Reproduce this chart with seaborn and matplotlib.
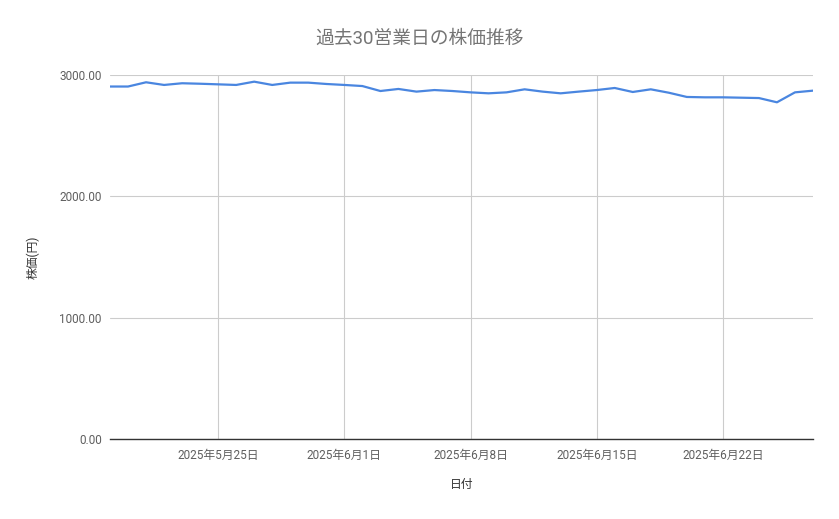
import matplotlib
matplotlib.use("Agg")
import matplotlib.pyplot as plt
import matplotlib.dates as mdates
import seaborn as sns
import pandas as pd

dates = pd.date_range("2025-05-19", "2025-06-27", freq="D")
prices = [2905, 2905, 2940, 2918, 2932, 2928, 2923, 2918, 2945, 2918,
          2937, 2937, 2926, 2918, 2909, 2868, 2885, 2863, 2876, 2868,
          2857, 2849, 2857, 2882, 2863, 2849, 2863, 2876, 2893, 2860,
          2882, 2854, 2819, 2816, 2816, 2813, 2810, 2775, 2857, 2871]
tick_dates = pd.to_datetime(["2025-05-25", "2025-06-01", "2025-06-08", "2025-06-15", "2025-06-22"])
y_ticks = [0, 1000, 2000, 3000]

df = pd.DataFrame({"日付": dates, "株価": prices})

sns.set_theme(style="white")
plt.rcParams["font.family"] = ["Roboto", "Noto Sans CJK JP", "DejaVu Sans"]

fig = plt.figure(figsize=(8.39, 5.19), dpi=100)
ax = fig.add_axes([110/839, 1-439/519, (813-110)/839, (439-75)/519])

sns.lineplot(data=df, x="日付", y="株価", ax=ax, color="#4a86e0", linewidth=1.6)

ax.set_xlim(dates[0], dates[-1])
ax.set_ylim(0, 3000)
ax.set_yticks(y_ticks)
ax.set_yticklabels([f"{v:.2f}" for v in y_ticks])
ax.set_xticks(tick_dates)
ax.set_xticklabels([f"{d.year}年{d.month}月{d.day}日" for d in tick_dates])

ax.grid(True, axis="both", color="#cccccc", linewidth=0.8)
ax.set_axisbelow(True)
for s in ["top", "right", "left"]:
    ax.spines[s].set_visible(False)
ax.spines["bottom"].set_color("#333333")
ax.spines["bottom"].set_linewidth(1.0)
ax.tick_params(axis="both", length=0, labelsize=8.5, colors="#5f5f5f", pad=6)
ax.tick_params(axis="x", pad=7)

ax.set_xlabel("日付", fontsize=8.5, color="#333333", labelpad=12)
ax.set_ylabel("株価(円)", fontsize=8.5, color="#333333", labelpad=14)
fig.text(0.5, 1-39/519, "過去30営業日の株価推移", ha="center", va="center",
         fontsize=13.5, color="#757575")

fig.savefig("out.png", dpi=100)
